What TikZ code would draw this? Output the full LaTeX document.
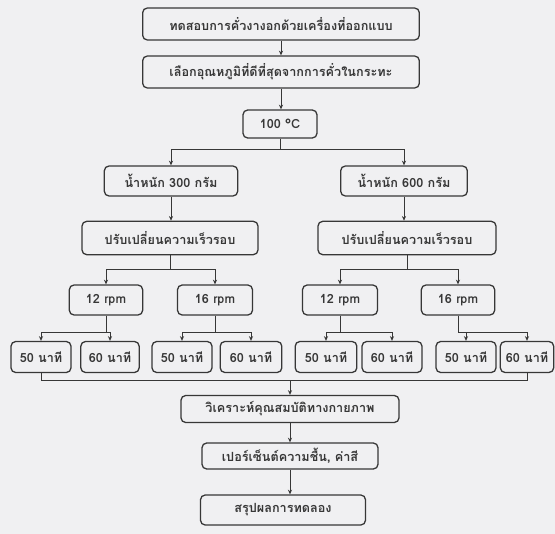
\documentclass[tikz,border=0pt]{standalone}
\usepackage{fontspec}
\newfontfamily\thaifont[Script=Thai]{Loma}
\usetikzlibrary{arrows.meta}
\definecolor{paper}{RGB}{240,240,242}
\definecolor{ink}{RGB}{55,55,55}
\begin{document}
\begin{tikzpicture}[x=0.03cm,y=-0.03cm,>={Stealth[length=4pt,width=3.5pt]},
  every node/.style={font=\thaifont\bfseries\fontsize{10.8}{12}\selectfont,text=ink},
  box/.style={draw=ink,line width=1.1pt,rounded corners=4pt,inner sep=2pt,align=center},
  link/.style={draw=ink,line width=0.6pt}]
  \fill[paper] (0,0) rectangle (555,534);
  \useasboundingbox (0,0) rectangle (555,534);
  \node[box,minimum width=8.3cm,minimum height=0.96cm] (TST) at (281,24) {ทดสอบการคั่วงางอกด้วยเครื่องที่ออกแบบ};
  \node[box,minimum width=8.3cm,minimum height=0.96cm] (SEL) at (281,72) {เลือกอุณหภูมิที่ดีที่สุดจากการคั่วในกระทะ};
  \node[box,minimum width=2.22cm,minimum height=0.84cm] (TMP) at (280,124) {100 °C};
  \node[box,minimum width=4.0cm,minimum height=0.9cm] (W3) at (171,181) {น้ำหนัก 300 กรัม};
  \node[box,minimum width=3.8cm,minimum height=0.9cm] (W6) at (404,181) {น้ำหนัก 600 กรัม};
  \node[box,minimum width=5.28cm,minimum height=1.0cm] (V3) at (170,238) {ปรับเปลี่ยนความเร็วรอบ};
  \node[box,minimum width=5.34cm,minimum height=1.0cm] (V6) at (407,238) {ปรับเปลี่ยนความเร็วรอบ};
  \node[box,minimum width=2.2cm,minimum height=0.9cm] (R3a) at (106,300) {12 rpm};
  \node[box,minimum width=2.25cm,minimum height=0.9cm] (R3b) at (215,300) {16 rpm};
  \node[box,minimum width=2.25cm,minimum height=0.9cm] (R6a) at (340,300) {12 rpm};
  \node[box,minimum width=2.2cm,minimum height=0.9cm] (R6b) at (458,300) {16 rpm};
  \node[box,minimum width=1.8cm,minimum height=0.93cm] (T1) at (41,357) {50 นาที};
  \node[box,minimum width=1.75cm,minimum height=0.93cm] (T2) at (110,357) {60 นาที};
  \node[box,minimum width=1.8cm,minimum height=0.93cm] (T3) at (182,357) {50 นาที};
  \node[box,minimum width=1.85cm,minimum height=0.93cm] (T4) at (251,357) {60 นาที};
  \node[box,minimum width=1.85cm,minimum height=0.93cm] (T5) at (326,357) {50 นาที};
  \node[box,minimum width=1.8cm,minimum height=0.93cm] (T6) at (392,357) {60 นาที};
  \node[box,minimum width=1.8cm,minimum height=0.93cm] (T7) at (466,357) {50 นาที};
  \node[box,minimum width=1.6cm,minimum height=0.93cm] (T8) at (527,357) {60 นาที};
  \node[box,minimum width=6.54cm,minimum height=0.81cm] (ANA) at (290,409) {วิเคราะห์คุณสมบัติทางกายภาพ};
  \node[box,minimum width=5.28cm,minimum height=0.78cm] (PCT) at (290,456) {เปอร์เซ็นต์ความชื้น, ค่าสี};
  \node[box,minimum width=4.95cm,minimum height=0.9cm] (SUM) at (283,510) {สรุปผลการทดลอง};
  \draw[link,->] (TST) -- (SEL);
  \draw[link,->] (SEL.south) -- (SEL.south |- TMP.north);
  \draw[link,->] (TMP.south) -- ++(0,11) -| (W3.north);
  \draw[link,->] (TMP.south) -- ++(0,11) -| (W6.north);
  \draw[link,->] (W3.south) -- (W3.south |- V3.north);
  \draw[link,->] (W6.south) -- (W6.south |- V6.north);
  \draw[link,->] (V3.south) -- ++(0,14) -| (R3a.north);
  \draw[link,->] (V3.south) -- ++(0,14) -| (R3b.north);
  \draw[link,->] (V6.south) -- ++(0,14) -| (R6a.north);
  \draw[link,->] (V6.south) -- ++(0,14) -| (R6b.north);
  \draw[link,->] (R3a.south) -- ++(0,17) -| (T1.north);
  \draw[link,->] (R3a.south) -- ++(0,17) -| (T2.north);
  \draw[link,->] (R3b.south) -- ++(0,17) -| (T3.north);
  \draw[link,->] (R3b.south) -- ++(0,17) -| (T4.north);
  \draw[link,->] (R6a.south) -- ++(0,17) -| (T5.north);
  \draw[link,->] (R6a.south) -- ++(0,17) -| (T6.north);
  \draw[link,->] (R6b.south) -- ++(0,17) -| (T7.north);
  \draw[link,->] (R6b.south) -- ++(0,17) -| (T8.north);
  \draw[link] (T1.south) -- ++(0,7) coordinate (M) -| (T8.south);
  \draw[link,->] (M -| ANA.north) -- (ANA.north);
  \draw[link,->] (ANA) -- (PCT);
  \draw[link,->] (PCT.south) -- (PCT.south |- SUM.north);
\end{tikzpicture}
\end{document}
